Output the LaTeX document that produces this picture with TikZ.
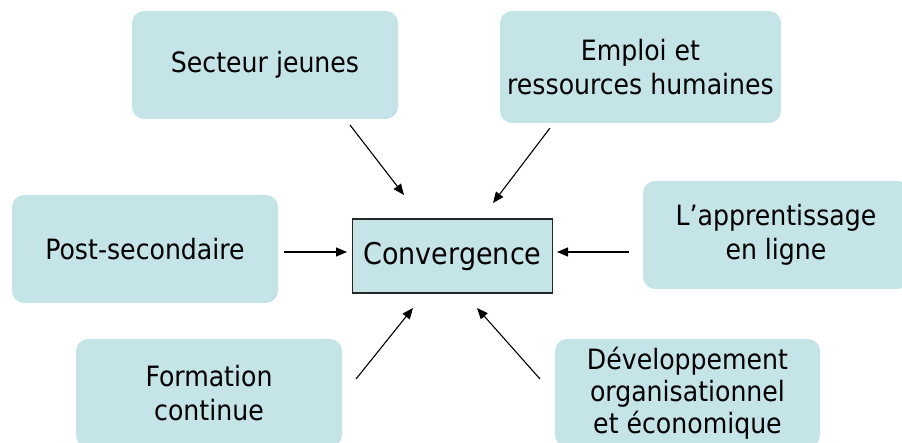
\documentclass[tikz,border=0pt]{standalone}
\usepackage{fontspec}
\setmainfont{DejaVu Sans Condensed}
\usetikzlibrary{arrows.meta}
\definecolor{boxfill}{RGB}{197,228,232}
\begin{document}
\begin{tikzpicture}[x=1pt,y=-1pt,
  box/.style={rectangle, rounded corners=12pt, fill=boxfill, align=center, inner sep=0pt,
    font=\fontsize{28}{34}\selectfont, minimum width=266pt, minimum height=108pt},
  convbox/.style={rectangle, draw=black!85, line width=1.2pt, fill=boxfill,
    minimum width=200pt, minimum height=74pt, inner sep=0pt, font=\fontsize{30}{36}\selectfont},
  arr/.style={line width=1.1pt, -{Triangle[length=11pt,width=9pt]}}]
\useasboundingbox (0,0) rectangle (902,443);
\clip (0,0) rectangle (902,443);
\node[box] (sec) at (265,65) {Secteur jeunes};
\node[box, minimum width=281pt, minimum height=112pt] (emp) at (640.5,67) {Emploi et\\ressources humaines};
\node[box] (post) at (145,249) {Post-secondaire};
\node[box] (app) at (776,235) {L’apprentissage\\en ligne};
\node[box] (form) at (209,393) {Formation\\continue};
\node[box, minimum width=265pt, font=\fontsize{28}{32}\selectfont] (dev) at (687.5,393) {Développement\\organisationnel\\et économique};
\node[convbox] (conv) at (452.5,256) {Convergence};
\coordinate (a1s) at (350,125); \coordinate (a1e) at (404,195);
\coordinate (a2s) at (550,128); \coordinate (a2e) at (493,203);
\coordinate (a3s) at (284,252); \coordinate (a3e) at (347,252);
\coordinate (a4s) at (629,252); \coordinate (a4e) at (557,252);
\coordinate (a5s) at (356,379); \coordinate (a5e) at (413,308);
\coordinate (a6s) at (540,379); \coordinate (a6e) at (477,308);
\draw[arr] (a1s) -- (a1e);
\draw[arr] (a2s) -- (a2e);
\draw[arr] (a3s) -- (a3e);
\draw[arr] (a4s) -- (a4e);
\draw[arr] (a5s) -- (a5e);
\draw[arr] (a6s) -- (a6e);
\end{tikzpicture}
\end{document}
